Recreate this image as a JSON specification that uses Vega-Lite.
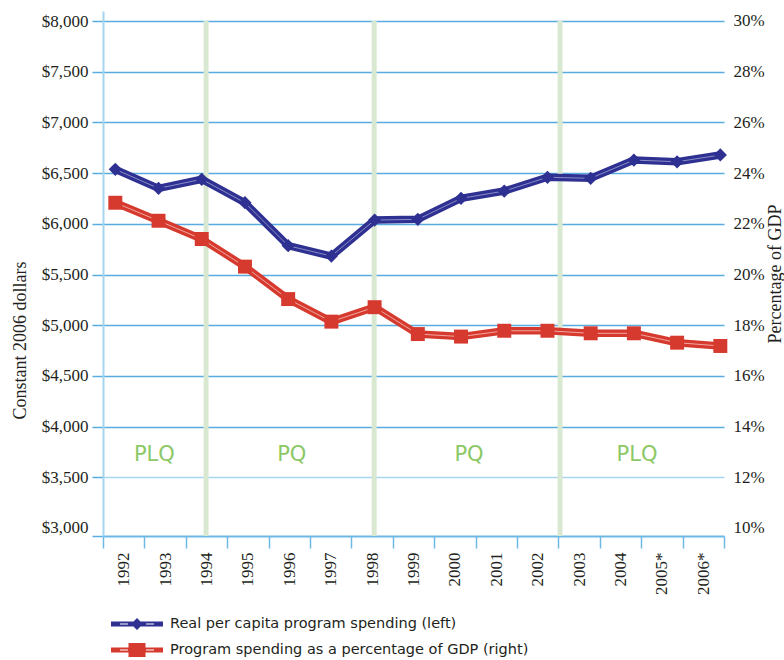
{
  "$schema": "https://vega.github.io/schema/vega-lite/v6.json",
  "width": 621,
  "height": 525,
  "autosize": {"type": "none"},
  "padding": {"left": 103, "top": 11, "right": 60, "bottom": 124},
  "background": "white",
  "config": {
    "view": {"stroke": null},
    "axis": {"labelFont": "Liberation Serif", "titleFont": "Liberation Serif", "labelColor": "#231f20", "titleColor": "#231f20", "titleFontWeight": "normal"}
  },
  "datasets": {
    "spend": [
      {"year": 1992, "dollars": 6537, "pct": 22.83},
      {"year": 1993, "dollars": 6350, "pct": 22.12},
      {"year": 1994, "dollars": 6439, "pct": 21.40},
      {"year": 1995, "dollars": 6208, "pct": 20.31},
      {"year": 1996, "dollars": 5784, "pct": 19.03},
      {"year": 1997, "dollars": 5682, "pct": 18.14},
      {"year": 1998, "dollars": 6037, "pct": 18.71},
      {"year": 1999, "dollars": 6044, "pct": 17.65},
      {"year": 2000, "dollars": 6251, "pct": 17.55},
      {"year": 2001, "dollars": 6323, "pct": 17.78},
      {"year": 2002, "dollars": 6459, "pct": 17.78},
      {"year": 2003, "dollars": 6449, "pct": 17.68},
      {"year": 2004, "dollars": 6629, "pct": 17.68},
      {"year": 2005, "dollars": 6612, "pct": 17.31},
      {"year": 2006, "dollars": 6679, "pct": 17.18}
    ],
    "elections": [{"t": 1994.49}, {"t": 1998.55}, {"t": 2003.04}],
    "eras": [
      {"t": 1993.24, "label": "PLQ"},
      {"t": 1996.56, "label": "PQ"},
      {"t": 2000.84, "label": "PQ"},
      {"t": 2004.90, "label": "PLQ"}
    ]
  },
  "layer": [
    {
      "layer": [
        {
          "data": {"name": "elections"},
          "mark": {"type": "rule", "color": "#d9e9d1", "strokeWidth": 5},
          "encoding": {
            "x": {
              "field": "t", "type": "quantitative", "title": null,
              "scale": {"domain": [1992, 2007], "nice": false, "zero": false},
              "axis": {
                "orient": "bottom",
                "title": null,
                "values": [1992, 1993, 1994, 1995, 1996, 1997, 1998, 1999, 2000, 2001, 2002, 2003, 2004, 2005, 2006, 2007],
                "format": "d",
                "labelExpr": "datum.value >= 2007 ? '' : (datum.value >= 2005 ? datum.label + '*' : datum.label)",
                "labelAngle": -90,
                "labelOffset": 20.7,
                "labelPadding": 4,
                "labelFontSize": 17,
                "labelFlush": false,
                "labelOverlap": false,
                "labelBound": false,
                "tickSize": 12,
                "tickColor": "#6cb8e6",
                "tickWidth": 1.5,
                "domainColor": "#6cb8e6",
                "domainWidth": 2,
                "grid": false
              }
            },
            "y": {"datum": 8000, "type": "quantitative", "scale": {"domain": [2921, 8099], "nice": false, "zero": false}, "axis": null},
            "y2": {"datum": 2921}
          }
        },
        {
          "data": {"name": "eras"},
          "mark": {"type": "text", "font": "DejaVu Sans", "fontSize": 21, "color": "#8cc866"},
          "encoding": {
            "x": {"field": "t", "type": "quantitative", "title": null},
            "y": {"datum": 3720, "type": "quantitative"},
            "text": {"field": "label"}
          }
        }
      ]
    },
    {
      "data": {"name": "spend"},
      "encoding": {
        "x": {"field": "year", "type": "quantitative", "scale": {"domain": [1991.715, 2006.085], "nice": false, "zero": false}, "axis": null},
        "y": {
          "field": "dollars", "type": "quantitative",
          "scale": {"domain": [2921, 8099], "nice": false, "zero": false},
          "axis": {
            "orient": "left",
            "title": "Constant 2006 dollars",
            "titleFontSize": 18,
            "titlePadding": 12,
            "titleY": 329,
            "values": [2921, 3000, 3500, 4000, 4500, 5000, 5500, 6000, 6500, 7000, 7500, 8000],
            "labelExpr": "datum.value < 2990 ? '' : format(datum.value, '$,')",
            "labelFontSize": 17,
            "labelPadding": 4,
            "tickSize": 11,
            "tickColor": "#5aace0",
            "tickWidth": 1.5,
            "tickOpacity": {"condition": {"test": "datum.value == 3000", "value": 0}, "value": 1},
            "grid": true,
            "gridColor": {"condition": {"test": "datum.value == 3500", "value": "#a8d6f0"}, "value": "#5aace0"},
            "gridOpacity": {"condition": {"test": "datum.value <= 3000", "value": 0}, "value": 1},
            "gridWidth": 1.5,
            "domainColor": "#a6d5f0",
            "domainWidth": 2
          }
        }
      },
      "layer": [
        {"mark": {"type": "line", "color": "#2e3192", "strokeWidth": 7.5}},
        {"mark": {"type": "line", "color": "#8a8cc8", "strokeWidth": 1}},
        {
          "mark": {"type": "point", "shape": "diamond", "filled": true, "size": 175, "opacity": 1},
          "encoding": {
            "color": {
              "datum": "Real per capita program spending (left)",
              "scale": {"range": ["#2e3192"]},
              "legend": {
                "orient": "none", "legendX": 24, "legendY": 603, "title": null, "padding": 0,
                "symbolType": "M-2.6,-0.25H2.6V0.25H-2.6Z M-1.7,-0.06V0.06H-0.9V-0.06Z M0.9,-0.06V0.06H1.7V-0.06Z M0,-0.6L0.6,0L0,0.6L-0.6,0Z",
                "symbolSize": 400, "symbolStrokeWidth": 0, "symbolOpacity": 1,
                "labelFont": "DejaVu Sans", "labelFontSize": 14.5, "labelColor": "#231f20", "labelOffset": 23, "labelLimit": 0
              }
            }
          }
        }
      ]
    },
    {
      "data": {"name": "spend"},
      "encoding": {
        "x": {"field": "year", "type": "quantitative", "scale": {"domain": [1991.715, 2006.085], "nice": false, "zero": false}, "axis": null},
        "y": {
          "field": "pct", "type": "quantitative",
          "scale": {"domain": [9.684, 30.394], "nice": false, "zero": false},
          "axis": {
            "orient": "right",
            "title": "Percentage of GDP",
            "titleFontSize": 18,
            "titleAngle": 270,
            "titlePadding": 20,
            "values": [10, 12, 14, 16, 18, 20, 22, 24, 26, 28, 30],
            "labelExpr": "datum.value + '%'",
            "labelFontSize": 17,
            "labelPadding": 9,
            "ticks": false,
            "tickSize": 0,
            "domain": false,
            "grid": false
          }
        }
      },
      "layer": [
        {"mark": {"type": "line", "color": "#d63a2f", "strokeWidth": 7.5}},
        {"mark": {"type": "line", "color": "#f2a7a0", "strokeWidth": 1}},
        {
          "mark": {"type": "point", "shape": "square", "filled": true, "size": 195, "opacity": 1},
          "encoding": {
            "color": {
              "datum": "Program spending as a percentage of GDP (right)",
              "scale": {"range": ["#d63a2f"]},
              "legend": {
                "orient": "none", "legendX": 24, "legendY": 629, "title": null, "padding": 0,
                "symbolType": "M-2.6,-0.25H2.6V0.25H-2.6Z M-1.7,-0.06V0.06H-0.9V-0.06Z M0.9,-0.06V0.06H1.7V-0.06Z M-0.85,-0.7H0.85V0.7H-0.85Z",
                "symbolSize": 400, "symbolStrokeWidth": 0, "symbolOpacity": 1,
                "labelFont": "DejaVu Sans", "labelFontSize": 14.5, "labelColor": "#231f20", "labelOffset": 23, "labelLimit": 0
              }
            }
          }
        }
      ]
    }
  ],
  "resolve": {"scale": {"x": "independent", "y": "independent", "color": "independent"}}
}
